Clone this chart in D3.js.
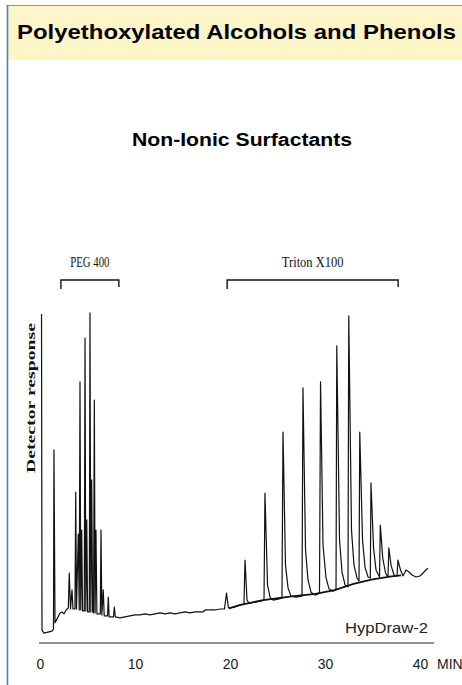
<!DOCTYPE html>
<html>
<head>
<meta charset="utf-8">
<script src="https://cdn.jsdelivr.net/npm/d3@7"></script>
<style>
  body { margin: 0; background: #fff; }
  svg text { font-family: "Liberation Sans", Arial, Helvetica, sans-serif; }
  svg text.serif { font-family: "Liberation Serif", "Times New Roman", serif; }
</style>
</head>
<body>
<svg id="chart" width="462" height="685"></svg>
<script>

// time axis (minutes)
const timeTicks = [0, 10, 20, 30, 40]

// bracketed elution windows, in minutes
const groups = [
  { name: 'PEG 400', start: 2.2, end: 8.3 },
  { name: 'Triton X100', start: 19.7, end: 37.7 }
]

// detector trace: [minutes, response]
const trace = [
  [0.16, 98.8], [0.21, 3.0], [0.42, 2.1], [0.84, 2.4], [1.26, 2.7], [1.42, 3.3],
  [1.47, 57.6], [1.58, 5.2], [1.79, 6.4], [2.11, 8.2], [2.32, 8.5], [2.53, 7.9],
  [2.74, 9.1], [2.98, 9.7],
  [3.08, 20.3], [3.21, 9.4], [3.37, 15.2], [3.47, 9.4], [3.68, 9.4], [3.76, 44.8],
  [3.84, 9.4], [4.03, 32.1], [4.13, 9.1], [4.21, 78.2], [4.29, 9.1], [4.39, 33.3],
  [4.48, 8.8], [4.66, 8.8], [4.74, 91.5], [4.82, 8.8], [4.92, 36.4], [5.01, 8.5],
  [5.19, 8.5], [5.26, 99.1], [5.35, 8.5], [5.44, 48.5], [5.54, 8.5], [5.64, 8.2],
  [5.72, 72.7], [5.80, 8.2], [5.89, 33.3], [5.99, 7.9], [6.16, 7.9], [6.35, 7.9],
  [6.42, 33.3], [6.51, 7.6], [6.66, 15.2], [6.76, 7.3], [7.11, 7.3], [7.19, 13.0],
  [7.28, 7.0], [7.74, 7.0], [7.82, 10.0], [7.93, 7.0],
  [8.42, 6.7], [8.95, 7.0], [9.47, 7.3], [10.00, 7.6], [10.53, 7.6], [11.05, 7.9],
  [11.58, 7.6], [12.11, 7.9], [12.63, 8.2], [13.16, 7.9], [13.68, 8.2], [14.21, 7.9],
  [14.74, 8.2], [15.26, 8.5], [15.79, 8.2], [16.32, 8.5], [16.84, 8.5], [17.16, 8.5],
  [17.37, 9.1], [17.89, 9.1], [18.42, 9.1], [18.95, 9.4], [19.42, 9.4],
  [19.63, 14.2], [19.84, 9.7], [20.53, 10.0], [21.05, 10.6], [21.47, 10.9],
  [21.58, 24.2], [21.79, 12.1], [22.00, 11.2], [22.63, 11.5], [23.16, 11.8], [23.58, 12.1],
  [23.68, 44.5], [23.95, 16.7], [24.21, 13.0], [24.53, 12.1], [25.05, 12.4], [25.47, 12.7],
  [25.58, 63.0], [25.84, 22.7], [26.11, 15.8], [26.42, 13.3], [26.95, 13.0], [27.58, 13.3],
  [27.68, 76.4], [27.95, 27.3], [28.21, 18.2], [28.53, 14.5], [28.95, 13.6], [29.42, 14.2],
  [29.53, 78.2], [29.79, 28.8], [30.11, 18.8], [30.42, 15.5], [30.84, 14.8], [31.16, 15.2],
  [31.24, 89.1], [31.53, 30.3], [31.79, 20.6], [32.11, 16.7], [32.42, 16.1],
  [32.50, 98.2], [32.79, 33.3], [33.05, 22.7], [33.37, 18.8], [33.58, 17.9],
  [33.66, 63.0], [33.95, 30.3], [34.21, 22.1], [34.53, 19.1], [34.77, 18.8],
  [34.84, 47.6], [35.11, 27.9], [35.37, 21.2], [35.74, 19.1],
  [35.82, 34.8], [36.08, 24.8], [36.37, 20.3], [36.63, 19.1],
  [36.72, 27.9], [36.95, 22.7], [37.26, 19.7], [37.58, 19.4],
  [37.68, 24.2], [37.95, 21.2], [38.21, 19.4], [38.53, 21.2], [38.84, 20.6],
  [39.16, 19.7], [39.58, 19.1], [40.00, 19.4], [40.42, 20.6], [40.84, 21.8]
]

// heavier drift line under the Triton cluster
const baseline = [
  [19.9, 9.6], [21.0, 10.6], [23.5, 12.1], [26.5, 13.2], [29.0, 14.0],
  [31.0, 15.1], [33.0, 17.0], [35.0, 18.4], [37.0, 19.3], [38.0, 19.6]
]

const svg = d3.select('#chart')

// page frame + heading band
svg.append('rect')
  .attr('x', 8).attr('y', 6)
  .attr('width', 454).attr('height', 54)
  .attr('fill', '#fef5c8')

svg.append('line')
  .attr('x1', 7).attr('x2', 462)
  .attr('y1', 5.5).attr('y2', 5.5)
  .attr('stroke', '#7d97c4').attr('stroke-width', 1.2)

svg.append('line')
  .attr('x1', 7.5).attr('x2', 7.5)
  .attr('y1', 5).attr('y2', 685)
  .attr('stroke', '#4f7fc0').attr('stroke-width', 1.6)

svg.append('text')
  .attr('x', 17).attr('y', 39)
  .attr('font-size', 21).attr('font-weight', 'bold')
  .attr('textLength', 439)
  .attr('lengthAdjust', 'spacingAndGlyphs')
  .attr('fill', '#000')
  .text('Polyethoxylated Alcohols and Phenols')

svg.append('text')
  .attr('x', 242).attr('y', 146)
  .attr('text-anchor', 'middle')
  .attr('font-size', 18).attr('font-weight', 'bold')
  .attr('textLength', 220)
  .attr('lengthAdjust', 'spacingAndGlyphs')
  .attr('fill', '#000')
  .text('Non-Ionic Surfactants')

// scales
const x = d3.scaleLinear().domain([0, 40]).range([40, 420])
const y = d3.scaleLinear().domain([0, 100]).range([640, 310])

const line = d3.line()
  .x(d => x(d[0]))
  .y(d => y(d[1]))

svg.append('path')
  .datum(baseline)
  .attr('d', line)
  .attr('fill', 'none')
  .attr('stroke', '#111')
  .attr('stroke-width', 1.8)

svg.append('path')
  .datum(trace)
  .attr('d', line)
  .attr('fill', 'none')
  .attr('stroke', '#111')
  .attr('stroke-width', 1.2)
  .attr('stroke-linejoin', 'round')

// brackets over the two groups
const brackets = svg.append('g').attr('class', 'brackets')

groups.forEach(g => {
  const x0 = x(g.start), x1 = x(g.end)
  brackets.append('path')
    .attr('d', `M${x0},289V280H${x1}V287`)
    .attr('fill', 'none')
    .attr('stroke', '#111')
    .attr('stroke-width', 1.4)

  brackets.append('text')
    .attr('class', 'serif')
    .attr('x', (x0 + x1) / 2)
    .attr('y', 267)
    .attr('text-anchor', 'middle')
    .attr('font-size', 15)
    .attr('textLength', g.name.length * 5.6)
    .attr('lengthAdjust', 'spacingAndGlyphs')
    .attr('fill', '#111')
    .text(g.name)
})

// y label
svg.append('text')
  .attr('class', 'serif')
  .attr('transform', 'translate(35,398) rotate(-90)')
  .attr('text-anchor', 'middle')
  .attr('font-size', 13).attr('font-weight', 'bold')
  .attr('textLength', 150)
  .attr('lengthAdjust', 'spacingAndGlyphs')
  .attr('fill', '#111')
  .text('Detector response')

// x axis
const xAxis = svg.append('g')
  .attr('class', 'axis x-axis')
  .attr('transform', 'translate(0,643)')
  .call(d3.axisBottom(x).tickValues(timeTicks).tickSize(0).tickSizeOuter(0).tickPadding(16))

xAxis.select('.domain')
  .attr('d', `M${x(-0.1)},0H${x(41.5)}`)
  .attr('stroke', '#222')
  .attr('stroke-width', 1.2)

xAxis.selectAll('.tick text')
  .attr('font-family', '"Liberation Sans", Arial, sans-serif')
  .attr('font-size', 14)
  .attr('fill', '#1a1a1a')

xAxis.append('text')
  .attr('x', 437).attr('y', 16).attr('dy', '0.71em')
  .attr('text-anchor', 'start')
  .attr('font-size', 14)
  .attr('fill', '#1a1a1a')
  .text('MIN')

svg.append('text')
  .attr('x', 345).attr('y', 633)
  .attr('font-size', 15)
  .attr('textLength', 83)
  .attr('lengthAdjust', 'spacingAndGlyphs')
  .attr('fill', '#222')
  .text('HypDraw-2')

</script>
</body>
</html>
